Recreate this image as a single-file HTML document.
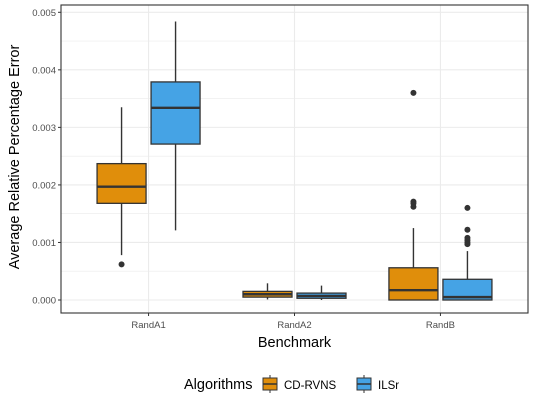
<!DOCTYPE html>
<html><head><meta charset="utf-8"><style>
body{margin:0;background:#fff;font-family:"Liberation Sans",Arial,sans-serif;}
svg text{font-family:"Liberation Sans",Arial,sans-serif;}
</style></head><body>
<svg id="chart" width="535" height="409" xmlns="http://www.w3.org/2000/svg">
<rect x="0" y="0" width="535" height="409" fill="#fff"/>
<g id="grid"></g>
<g id="marks"></g>
<rect x="61" y="5" width="467" height="308" fill="none" stroke="#333" stroke-width="1.1"/>
<g id="axes"></g>
<text transform="translate(19,157) rotate(-90)" text-anchor="middle" font-size="14.5" fill="#000">Average Relative Percentage Error</text>
<text x="294.5" y="347" text-anchor="middle" font-size="14.5" fill="#000">Benchmark</text>
<g>
<text x="184" y="389" font-size="14.5" fill="#000">Algorithms</text>
<g>
<line x1="270" y1="375" x2="270" y2="393" stroke="#333" stroke-width="1"/>
<rect x="263" y="378" width="14" height="12" fill="#E08E0B" stroke="#333" stroke-width="1"/>
<line x1="263" y1="384" x2="277" y2="384" stroke="#333" stroke-width="1.5"/>
<text x="284" y="389" font-size="11.5" fill="#000">CD-RVNS</text></g>
<g>
<line x1="364" y1="375" x2="364" y2="393" stroke="#333" stroke-width="1"/>
<rect x="357" y="378" width="14" height="12" fill="#45A3E5" stroke="#333" stroke-width="1"/>
<line x1="357" y1="384" x2="371" y2="384" stroke="#333" stroke-width="1.5"/>
<text x="378" y="389" font-size="11.5" fill="#000">ILSr</text></g>
</g>
</svg>
<script>
const categories=["RandA1","RandA2","RandB"];
const series=["CD-RVNS","ILSr"];
const colors=["#E08E0B","#45A3E5"];
const yTicks=[0,0.001,0.002,0.003,0.004,0.005];
const yTickLabels=["0.000","0.001","0.002","0.003","0.004","0.005"];
// [lowWhisker,Q1,median,Q3,highWhisker]
const cdStats=[[0.00078,0.00168,0.00197,0.00237,0.00335],[0.00001,0.00005,0.00010,0.00015,0.00029],[0,0,0.00017,0.00056,0.00125]];
const ilsStats=[[0.00121,0.00271,0.00334,0.00379,0.00484],[0,0.00003,0.00007,0.00012,0.00025],[0,0,0.00005,0.00036,0.00085]];
const cdOutliers=[[0.00062],[],[0.0036,0.00162,0.00168,0.00171]];
const ilsOutliers=[[],[],[0.0016,0.00122,0.00108,0.00104,0.001,0.00097]];
const NS="http://www.w3.org/2000/svg";
const px0=61,px1=528,yb=300,yt=12.3;
const y=v=>yb-(v/0.005)*(yb-yt);
const step=(px1-px0)/(categories.length-1+1.2);
const x=i=>px0+step*(i+0.6);
function mk(t,a,p){const e=document.createElementNS(NS,t);for(const k in a)e.setAttribute(k,a[k]);p.appendChild(e);return e;}
const grid=document.getElementById('grid'),marks=document.getElementById('marks'),axes=document.getElementById('axes');
for(let i=0;i<yTicks.length;i++){
 const g=mk('line',{x1:px0,x2:px1,y1:y(yTicks[i]),y2:y(yTicks[i]),stroke:'#ebebeb','stroke-width':1.1},grid);
 
 
 if(i<yTicks.length-1){const m=mk('line',{x1:px0,x2:px1,y1:y((yTicks[i]+yTicks[i+1])/2),y2:y((yTicks[i]+yTicks[i+1])/2),stroke:'#ebebeb','stroke-width':0.6},grid);
 
 }
 const tk=mk('line',{x1:px0-3,x2:px0,y1:y(yTicks[i]),y2:y(yTicks[i]),stroke:'#333'},axes);
 
 
 const t=mk('text',{x:px0-5,y:y(yTicks[i])+3.5,'text-anchor':'end','font-size':'9.5',fill:'#4d4d4d'},axes);
 t.textContent=yTickLabels[i];
 
 
}
categories.forEach((c,i)=>{
 const g=mk('line',{x1:x(i),x2:x(i),y1:5,y2:313,stroke:'#ebebeb','stroke-width':1.1},grid);
 
 
 const tk=mk('line',{x1:x(i),x2:x(i),y1:313,y2:316,stroke:'#333'},axes);
 
 
 const t=mk('text',{x:x(i),y:328,'text-anchor':'middle','font-size':'9.5',fill:'#4d4d4d'},axes);
 t.textContent=c;
 
 
});
const allStats=[cdStats,ilsStats],allOut=[cdOutliers,ilsOutliers];
const bw=49,off=27;
categories.forEach((c,i)=>{
 [0,1].forEach(s=>{
  const st=allStats[s][i],cx=x(i)+(s===0?-off:off);
  const g=mk('g',{},marks);
  
  
  mk('line',{x1:cx,x2:cx,y1:y(st[0]),y2:y(st[4]),stroke:'#333','stroke-width':1.4},g);
  mk('rect',{x:cx-bw/2,y:y(st[3]),width:bw,height:Math.max(0.5,y(st[1])-y(st[3])),fill:colors[s],stroke:'#333','stroke-width':1.3},g);
  mk('line',{x1:cx-bw/2,x2:cx+bw/2,y1:y(st[2]),y2:y(st[2]),stroke:'#333','stroke-width':2.4},g);
  allOut[s][i].forEach(v=>{
   const p=mk('circle',{cx:cx,cy:y(v),r:3,fill:'#333'},g);
   
   
  });
 });
});
</script>
</body></html>
